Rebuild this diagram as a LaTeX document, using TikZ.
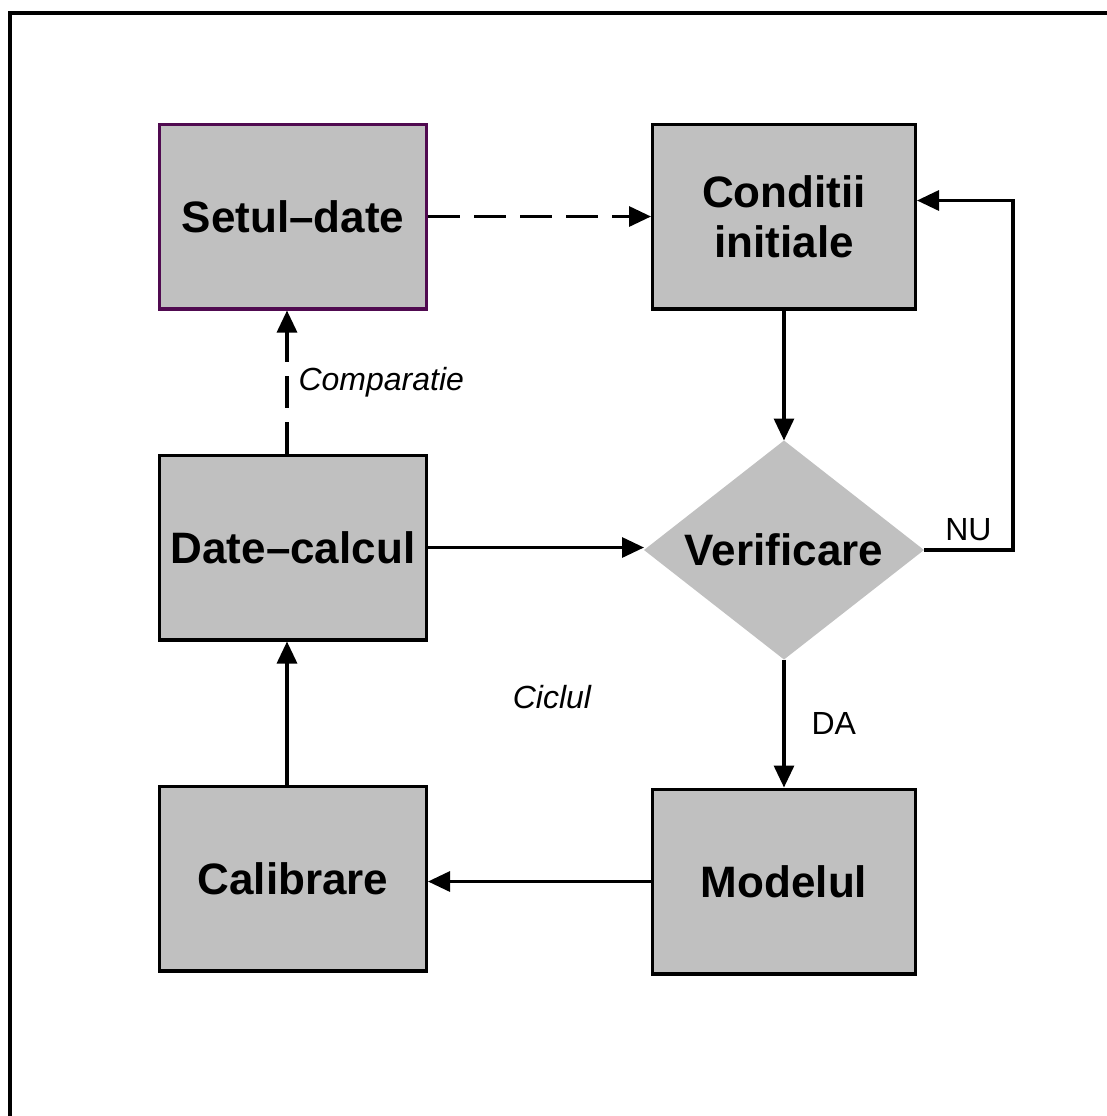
\documentclass[tikz,border=0pt]{standalone}
\usepackage{fontspec}
\setmainfont{Liberation Sans}
\usetikzlibrary{positioning,shapes.geometric,arrows.meta}
\definecolor{boxgray}{RGB}{192,192,192}
\definecolor{setborder}{RGB}{80,10,80}

\begin{document}
\begin{tikzpicture}[
			x=0.5pt, y=-0.5pt,
			box/.style = {draw, line width=1.6pt, fill=boxgray, minimum width=133.4pt,
				minimum height=92.4pt, inner sep=0pt, align=center,
				font=\fontsize{22}{25}\selectfont\bfseries},
			decision/.style = {diamond, fill=boxgray, aspect=1.28, minimum width=140pt,
				minimum height=109.5pt, inner sep=0pt, outer sep=0pt,
				font=\fontsize{22}{25}\selectfont\bfseries},
			conn/.style = {line width=1.6pt, -{Triangle[length=11pt,width=10pt]}},
			dconn/.style = {conn, dash pattern=on 16pt off 7pt},
			lbl/.style = {inner sep=2pt, font=\fontsize{16}{19}\selectfont}
		]
		\useasboundingbox (0,0) rectangle (1107,1116);
		% frame
		\draw[line width=2pt] (9.5,1116) -- (9.5,12.5) -- (1107,12.5);
		\node[box, draw=setborder] (setul) at (293,216.5) {Setul–date};
		\node[box, minimum width=131.4pt] (conditii) [right=111.5pt of setul] {Conditii\\initiale};
		\node[box] (datecalcul) [below=71.5pt of setul] {Date–calcul};
		\node[box] (calibrare) [below=71.5pt of datecalcul] {Calibrare};
		\node[decision] (verificare) [below=65pt of conditii] {Verificare};
		\node[box, minimum width=131.4pt] (modelul) [below=64pt of verificare] {Modelul};
		\node[lbl, font=\fontsize{16}{19}\selectfont\itshape] (ciclul) at (552,697) {Ciclul};
		\draw[dconn] (setul) -- (conditii);
		\draw[dconn] ([xshift=-3pt]datecalcul.north) -- node[lbl, right=3pt, font=\fontsize{16}{19}\selectfont\itshape] (comparatie) {Comparatie} ([xshift=-3pt]setul.south);
		\draw[conn] (conditii) -- (verificare);
		\draw[conn] (datecalcul.east) -- (datecalcul.east -| verificare.west);
		\draw[conn] (verificare) -- node[lbl, right=11pt] (da) {DA} (modelul);
		\draw[conn] (verificare.east) -- node[lbl, above=2pt] (nu) {NU} ++(44.5pt,0) |- ([yshift=8pt]conditii.east);
		\draw[conn] (modelul.west) -- (modelul.west -| calibrare.east);
		\draw[conn] ([xshift=-3pt]calibrare.north) -- ([xshift=-3pt]datecalcul.south);
	\end{tikzpicture}
\end{document}
